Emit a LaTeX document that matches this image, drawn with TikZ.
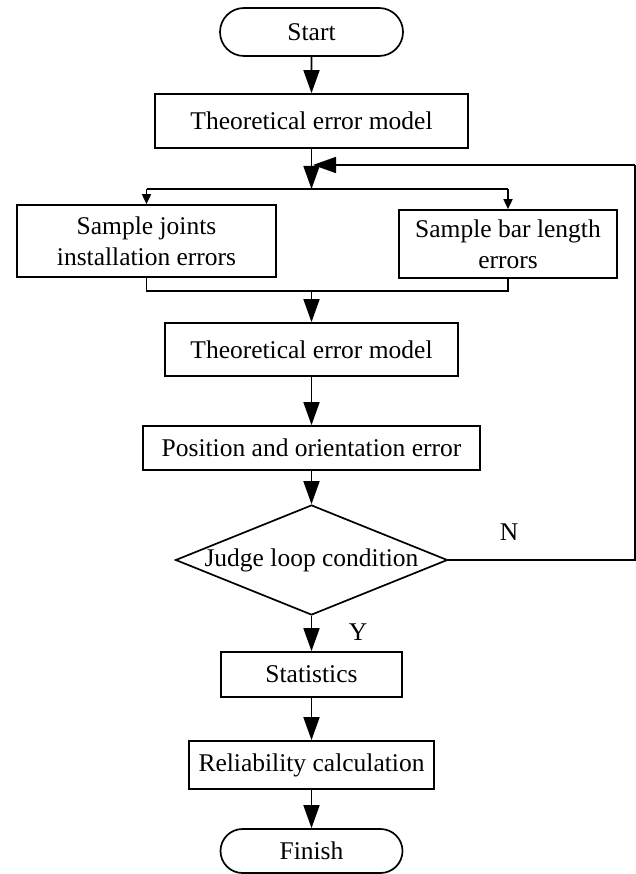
\documentclass[tikz,border=0pt]{standalone}
\usepackage{fontspec}
\setmainfont{Liberation Serif}
\usetikzlibrary{arrows.meta,shapes.geometric,shapes.misc}
\begin{document}
\begin{tikzpicture}[x=1pt,y=-1pt,
  every node/.style={font=\fontsize{25.5}{31}\selectfont, text=black},
  box/.style={draw, line width=1.7pt, rectangle, inner sep=0pt, align=center},
  term/.style={draw, line width=1.7pt, rounded rectangle, inner sep=0pt},
  dec/.style={draw, line width=1.7pt, diamond, aspect=2.47, inner sep=0pt, minimum width=272pt, minimum height=110pt},
  conn/.style={line width=1.7pt},
  big/.style={conn, -{Triangle[width=16pt,length=23pt]}},
  small/.style={conn, -{Triangle[width=9pt,length=10pt]}},
  lbl/.style={inner sep=0pt}
]
\useasboundingbox (0,0) rectangle (636,874);
\node[term, minimum width=183pt, minimum height=48pt] (start) at (311.5,32) {Start};
\node[box, minimum width=313pt, minimum height=54pt] (b1) at (311.5,121) {Theoretical error model};
\node[box, minimum width=259pt, minimum height=72pt] (left) at (146.5,241) {Sample joints\\installation errors};
\node[box, minimum width=218pt, minimum height=68pt] (right) at (508,244) {Sample bar length\\errors};
\node[box, minimum width=293pt, minimum height=53pt] (b3) at (311.5,349.5) {Theoretical error model};
\node[box, minimum width=337pt, minimum height=44pt] (b4) at (311.5,448) {Position and orientation error};
\node[dec] (dia) at (311.5,560) {Judge loop condition};
\node[box, minimum width=181pt, minimum height=45pt] (stats) at (311.5,674.5) {Statistics};
\node[box, minimum width=245pt, minimum height=48pt] (rel) at (311.5,765) {Reliability calculation};
\node[term, minimum width=182pt, minimum height=44pt] (finish) at (311.5,851) {Finish};
\node[lbl] (nlab) at (509,532) {N};
\node[lbl] (ylab) at (358,632) {Y};

\coordinate (split) at (311.5,189);
\coordinate (splitL) at (146.5,189);
\coordinate (splitR) at (508,189);
\coordinate (mergeL) at (146.5,291);
\coordinate (mergeR) at (508,291);
\coordinate (merge) at (311.5,291);
\coordinate (loopA) at (635,560);
\coordinate (loopB) at (635,165);
\coordinate (loopEnd) at (313,165);

\draw[big] (start) -- (b1);
\draw[big] (b1) -- (split);
\draw[conn] (splitL) -- (splitR);
\draw[small] (splitL) -- (left.north);
\draw[small] (splitR) -- (right.north);
\draw[conn] (left.south) -- (mergeL) -- (mergeR) -- (right.south);
\draw[big] (merge) -- (b3);
\draw[big] (b3) -- (b4);
\draw[big] (b4) -- (dia);
\draw[big] (dia) -- (stats);
\draw[big] (stats) -- (rel);
\draw[big] (rel) -- (finish);
\draw[conn] (dia.east) -- (loopA) -- (loopB);
\draw[big] (loopB) -- (loopEnd);
\end{tikzpicture}
\end{document}
